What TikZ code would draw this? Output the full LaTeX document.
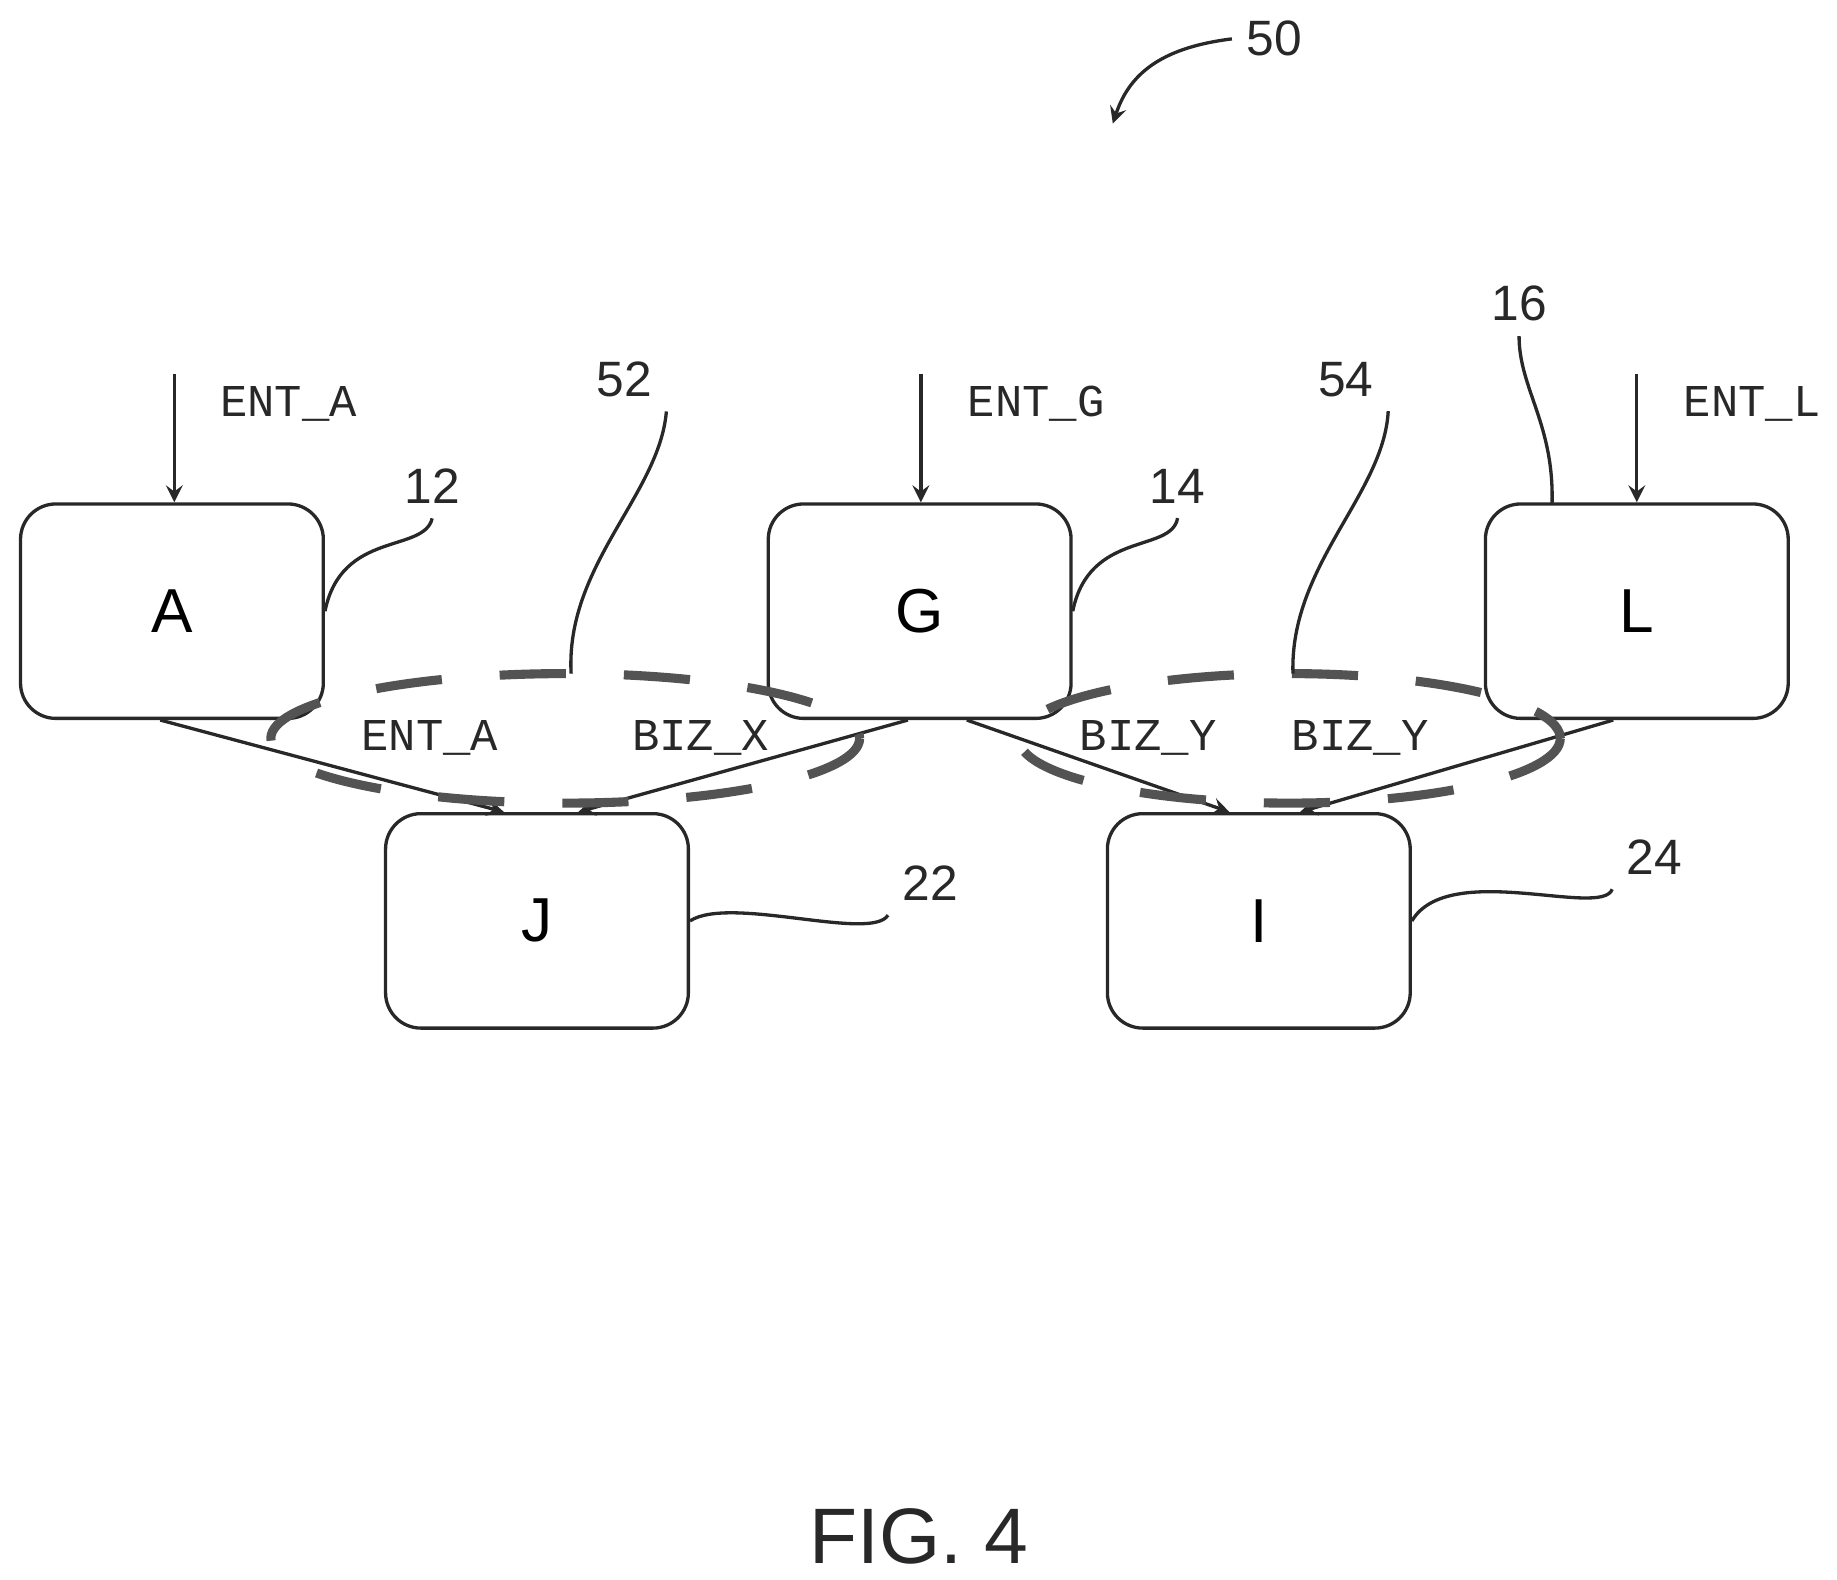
\documentclass[tikz,border=0pt]{standalone}
\usepackage{fontspec}
\setmainfont{Liberation Sans}
\setmonofont{Liberation Mono}
\usetikzlibrary{positioning,arrows}
\definecolor{ink}{RGB}{40,40,40}
\tikzstyle{arrow} = [
    thick,
    -stealth,
    draw=ink
]
\tikzstyle{box} = [
    rectangle,
    rounded corners=3mm,
    minimum width=2.57cm,
    minimum height=1.82cm,
    draw=ink,
    thick,
    font=\fontsize{15}{15}\selectfont
]
\begin{document}
\begin{tikzpicture}[
                x=0.01cm, y=-0.01cm,
                flow/.style={font=\ttfamily\fontsize{11}{11}\selectfont, text=ink},
                ref/.style={font=\fontsize{12}{12}\selectfont, text=ink},
                lead/.style={draw=ink, thick},
                group/.style={draw=ink!80, line width=2.2pt, dash pattern=on 16pt off 14pt}
            ]
                \useasboundingbox (0,0) rectangle (1560,1341);
                \node[box] (A) at (146,519) {A};
                \node[box] (G) at (781,519) {G};
                \node[box] (L) at (1390,519) {L};
                \node[box] (J) at (456,782) {J};
                \node[box] (I) at (1069,782) {I};
                % incoming entities
                \coordinate (inA) at (148,318);
                \coordinate (inG) at (782,318);
                \coordinate (inL) at (1390,318);
                \draw[arrow] (inA) -- (A.north -| inA);
                \draw[arrow] (inG) -- (G.north -| inG);
                \draw[arrow] (inL) -- (L.north -| inL);
                \node[flow] (entA) at (245,343) {ENT\_A};
                \node[flow] (entG) at (880,343) {ENT\_G};
                \node[flow] (entL) at (1488,343) {ENT\_L};
                % flows to J and I
                \draw[arrow] ([xshift=1.2cm]A.south west) -- ([xshift=-0.28cm]J.north);
                \draw[arrow] ([xshift=-0.1cm]G.south) -- ([xshift=0.35cm]J.north);
                \draw[arrow] ([xshift=0.4cm]G.south) -- ([xshift=-0.25cm]I.north);
                \draw[arrow] ([xshift=-0.2cm]L.south) -- ([xshift=0.35cm]I.north);
                \node[flow] (fA) at (365,627) {ENT\_A};
                \node[flow] (fX) at (595,627) {BIZ\_X};
                \node[flow] (fY1) at (975,627) {BIZ\_Y};
                \node[flow] (fY2) at (1155,627) {BIZ\_Y};
                % groups
                \draw[group] (480,627) ellipse [x radius=250, y radius=55];
                \draw[group] (1095,627) ellipse [x radius=230, y radius=55];
                % reference numerals
                \node[ref] (n50) at (1082,33) {50};
                \node[ref] (n52) at (530,322) {52};
                \node[ref] (n54) at (1143,322) {54};
                \node[ref] (n16) at (1290,258) {16};
                \node[ref] (n12) at (367,413) {12};
                \node[ref] (n14) at (1000,413) {14};
                \node[ref] (n22) at (790,750) {22};
                \node[ref] (n24) at (1405,728) {24};
                \coordinate (g52) at (485,572);
                \coordinate (g54) at (1098,572);
                \coordinate (g16) at (1318,428);
                \draw[lead] (n52.south east) .. controls (560,420) and (480,480) .. (g52);
                \draw[lead] (n54.south east) .. controls (1175,420) and (1095,480) .. (g54);
                \draw[lead] (n16.south) .. controls (1290,330) and (1320,360) .. (g16);
                \draw[lead] (n12.south) .. controls (360,470) and (290,450) .. (A.east);
                \draw[lead] (n14.south) .. controls (995,470) and (925,450) .. (G.east);
                \draw[lead] (n22.south west) .. controls (740,800) and (620,760) .. (J.east);
                \draw[lead] (n24.south west) .. controls (1360,780) and (1230,730) .. (I.east);
                \draw[arrow] (n50.west) .. controls (990,40) and (960,60) .. (945,105);
                \node[font=\fontsize{19}{19}\selectfont, text=ink] (fig) at (780,1305) {FIG. 4};
            \end{tikzpicture}
\end{document}
